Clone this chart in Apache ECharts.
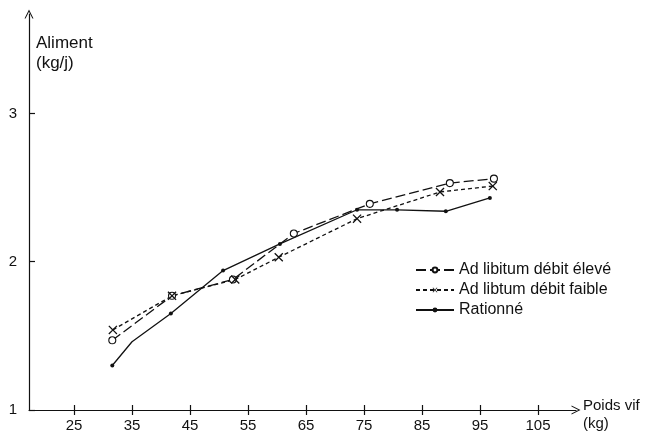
<!DOCTYPE html>
<html lang="fr">
<head>
<meta charset="utf-8" />
<title>Aliment / Poids vif</title>
<style>
  * { margin: 0; padding: 0; }
  body { background: #fff; }
  #chart-container { width: 647px; height: 437px; }
</style>
</head>
<body>
<div id="chart-container"></div>
<script src="https://cdn.jsdelivr.net/npm/echarts@6/dist/echarts.min.js"></script>
<script>
  // valeurs : [poids vif (kg), aliment (kg/j)]
  var seriesNames = ["Ad libitum débit élevé", "Ad libtum débit faible", "Rationné"];
  var eleve = [
    [31.6, 1.47], [41.9, 1.77], [52.4, 1.88], [62.9, 2.19],
    [76.0, 2.39], [89.8, 2.53], [97.4, 2.56]
  ];
  var faible = [
    [31.7, 1.54], [41.9, 1.77], [52.8, 1.88], [60.3, 2.03],
    [73.8, 2.29], [88.1, 2.47], [97.2, 2.51]
  ];
  var rationne = [
    [31.6, 1.30], [35.0, 1.46], [41.7, 1.65], [50.7, 1.94], [60.5, 2.12],
    [73.8, 2.35], [80.7, 2.35], [89.1, 2.34], [96.7, 2.43]
  ];
  var rationneNoMarker = [1]; // coude de la courbe sans point
  var xTicks = [25, 35, 45, 55, 65, 75, 85, 95, 105];
  var yTicks = [1, 2, 3];

  var ink = "#111";
  var font = "Liberation Sans, Arial, sans-serif";
  var arrow = "path://M5,0 L10,10 L8.8,10 L5,2.4 L1.2,10 L0,10 Z";
  var cross = "path://M0,1 L1,0 L5,4 L9,0 L10,1 L6,5 L10,9 L9,10 L5,6 L1,10 L0,9 L4,5 Z";

  var dom = document.getElementById("chart-container");
  var myChart = echarts.init(dom, null, { renderer: "canvas" });

  var xMin = 17.24, xMax = 111.55;

  var option = {
    backgroundColor: "#fff",
    animation: false,
    grid: { left: 29, right: 71, top: 14, bottom: 27 },
    xAxis: [{
      type: "value",
      min: xMin,
      max: xMax,
      axisLine: {
        lineStyle: { color: ink, width: 1.2 },
        symbol: ["none", arrow],
        symbolSize: [9, 11]
      },
      axisTick: {
        customValues: xTicks,
        length: 5,
        lineStyle: { color: ink, width: 1.2 }
      },
      axisLabel: {
        customValues: xTicks,
        margin: 8,
        color: ink,
        fontSize: 15,
        fontFamily: font
      },
      splitLine: { show: false }
    }, {
      type: "value",
      position: "bottom",
      min: xMin,
      max: xMax,
      axisLine: { show: false },
      axisTick: {
        customValues: xTicks,
        inside: true,
        length: 5,
        lineStyle: { color: ink, width: 1.2 }
      },
      axisLabel: { show: false },
      splitLine: { show: false }
    }],
    yAxis: {
      type: "value",
      min: 1,
      max: 3.67,
      axisLine: {
        show: true,
        lineStyle: { color: ink, width: 1.2 },
        symbol: ["none", arrow],
        symbolSize: [9, 11]
      },
      axisTick: {
        show: true,
        customValues: yTicks,
        inside: true,
        length: 6,
        lineStyle: { color: ink, width: 1.2 }
      },
      axisLabel: {
        customValues: yTicks,
        margin: 12,
        color: ink,
        fontSize: 15,
        fontFamily: font
      },
      splitLine: { show: false }
    },
    legend: {
      orient: "vertical",
      left: 410,
      top: 257,
      itemWidth: 38,
      itemHeight: 6,
      itemGap: 4,
      textStyle: { color: ink, fontSize: 16, fontFamily: font },
      data: seriesNames
    },
    graphic: [
      {
        type: "text", left: 36, top: 33,
        style: { text: "Aliment\n(kg/j)", fill: ink, font: "17px " + font, lineHeight: 20 }
      },
      {
        type: "text", left: 583, top: 397,
        style: { text: "Poids vif\n(kg)", fill: ink, font: "15px " + font, lineHeight: 18 }
      }
    ],
    series: [
      {
        name: seriesNames[0],
        type: "line",
        data: eleve,
        symbol: "circle",
        symbolSize: 7,
        itemStyle: { color: "#fff", borderColor: ink, borderWidth: 1.1 },
        lineStyle: { color: ink, width: 1.3, type: [10, 4] }
      },
      {
        name: seriesNames[1],
        type: "line",
        data: faible,
        symbol: cross,
        symbolSize: 9,
        itemStyle: { color: ink },
        lineStyle: { color: ink, width: 1.3, type: [4, 3] }
      },
      {
        name: seriesNames[2],
        type: "line",
        data: rationne.map(function (p, i) {
          return rationneNoMarker.indexOf(i) >= 0 ? { value: p, symbol: "none" } : p;
        }),
        symbol: "circle",
        symbolSize: 4,
        itemStyle: { color: ink },
        lineStyle: { color: ink, width: 1.3 }
      }
    ]
  };

  myChart.setOption(option);
  window.addEventListener("resize", myChart.resize);
</script>
</body>
</html>
